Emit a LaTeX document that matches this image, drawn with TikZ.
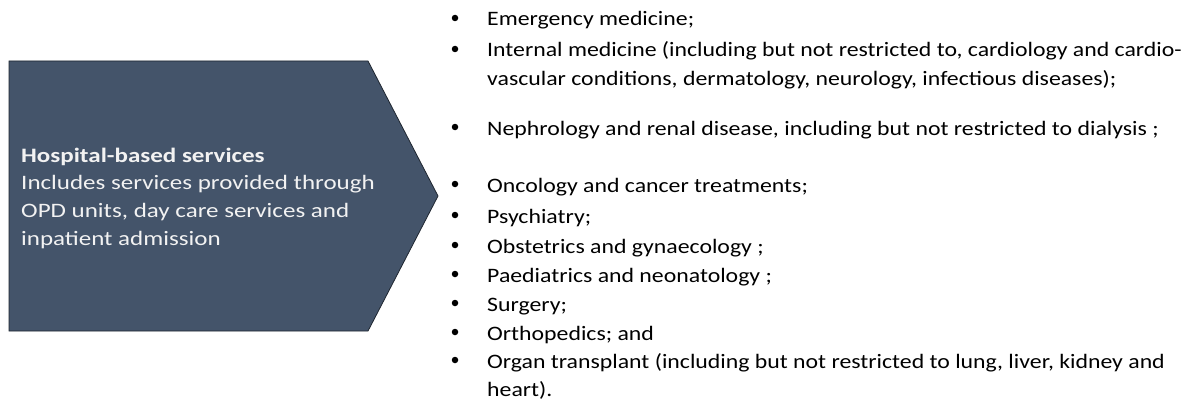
\documentclass[tikz,border=0pt]{standalone}
\usepackage{fontspec}
\usepackage{graphicx}
\setmainfont{Carlito}
\definecolor{boxfill}{HTML}{44546A}
\definecolor{boxline}{HTML}{1F2630}
\definecolor{boxtext}{HTML}{F2F2F2}
\newcommand\lstx[1]{\scalebox{1.16}[1]{#1}}
\newcommand\boxx[1]{\scalebox{1.22}[1]{#1}}
\begin{document}
\begin{tikzpicture}[x=1pt,y=-1pt,
  txt/.style={anchor=base west, inner sep=0pt, font=\fontsize{20.5}{24}\selectfont},
  boxtxt/.style={txt, text=boxtext},
  bul/.style={circle, fill=black, inner sep=0pt, minimum size=6.5pt}]
\useasboundingbox (0,0) rectangle (1191,412);
\fill[white] (0,0) rectangle (1191,412);
\draw[fill=boxfill, draw=boxline, line width=0.8pt, line join=miter]
  (9,61) -- (368,61) -- (438,196) -- (368,331) -- (9,331) -- cycle;
\node[boxtxt, font=\fontsize{20.5}{24}\selectfont\bfseries] (t1) at (21,162) {\boxx{Hospital-based services}};
\node[boxtxt] (t2) at (21,189.5) {\boxx{Includes services provided through}};
\node[boxtxt] (t3) at (21,217) {\boxx{OPD units, day care services and}};
\node[boxtxt] (t4) at (21,245) {\boxx{inpatient admission}};

\node[txt] (l1) at (487,26) {\lstx{Emergency medicine;}};
\node[txt] (l2) at (487,57) {\lstx{Internal medicine (including but not restricted to, cardiology and cardio-}};
\node[txt] (l2b) at (487,85) {\lstx{vascular conditions, dermatology, neurology, infectious diseases);}};
\node[txt] (l3) at (487,135) {\lstx{Nephrology and renal disease, including but not restricted to dialysis ;}};
\node[txt] (l4) at (487,192) {\lstx{Oncology and cancer treatments;}};
\node[txt] (l5) at (487,223) {\lstx{Psychiatry;}};
\node[txt] (l6) at (487,253) {\lstx{Obstetrics and gynaecology ;}};
\node[txt] (l7) at (487,282) {\lstx{Paediatrics and neonatology ;}};
\node[txt] (l8) at (487,311) {\lstx{Surgery;}};
\node[txt] (l9) at (487,340) {\lstx{Orthopedics; and}};
\node[txt] (l10) at (487,368) {\lstx{Organ transplant (including but not restricted to lung, liver, kidney and}};
\node[txt] (l10b) at (487,396) {\lstx{heart).}};

\foreach \n/\y in {b1/26,b2/57,b3/135,b4/192,b5/223,b6/253,b7/282,b8/311,b9/340,b10/368}
  \node[bul] (\n) at (455,\y-8) {};
\end{tikzpicture}
\end{document}
